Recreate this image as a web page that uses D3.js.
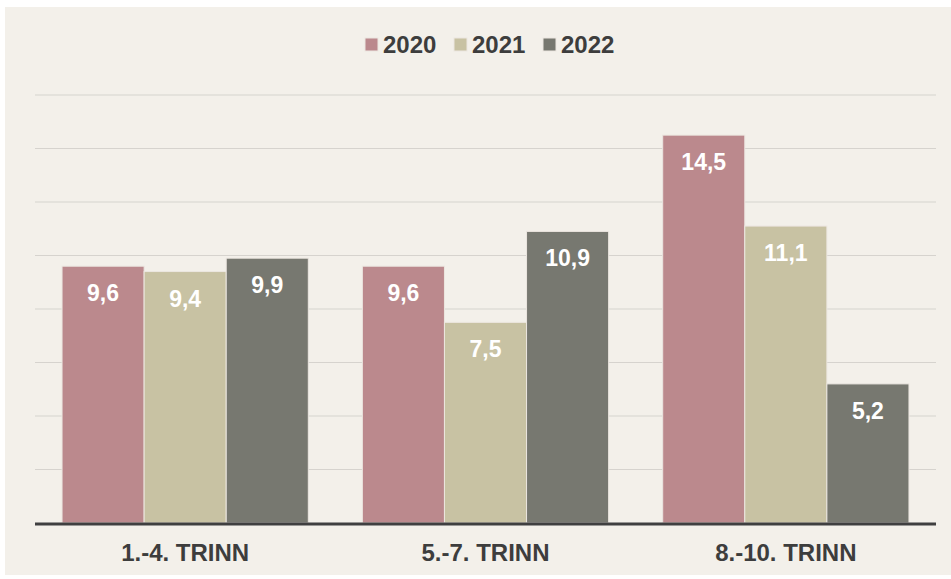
<!DOCTYPE html>
<html>
<head>
<meta charset="utf-8">
<script src="https://cdn.jsdelivr.net/npm/d3@7"></script>
<style>
  body { margin: 0; background: #fff; }
  svg { display: block; font-family: "Liberation Sans", Arial, sans-serif; }
</style>
</head>
<body>
<div id="chart"></div>
<script>
// Chart size and margins
const width = 951;
const height = 579;
const margin = { top: 95, right: 15, bottom: 56, left: 35 };

// Data
const categories = ["1.-4. TRINN", "5.-7. TRINN", "8.-10. TRINN"];
const years = ["2020", "2021", "2022"];
const values2020 = [9.6, 9.6, 14.5];
const values2021 = [9.4, 7.5, 11.1];
const values2022 = [9.9, 10.9, 5.2];
const yTicks = [0, 2, 4, 6, 8, 10, 12, 14, 16];

const series = [values2020, values2021, values2022];
const colors = ["#bb898d", "#c8c2a3", "#777870"];

const rows = categories.map((c, i) => ({
    category: c,
    values: years.map((y, j) => ({ year: y, value: series[j][i], color: colors[j] }))
}));

const svg = d3.select("#chart")
    .append("svg")
    .attr("width", width)
    .attr("height", height);

// Background panel
svg.append("rect")
    .attr("x", 5)
    .attr("y", 7)
    .attr("width", width - 5)
    .attr("height", height - 11)
    .attr("fill", "#f3f0ea");

// Scales
const x0 = d3.scaleBand()
    .domain(categories)
    .range([margin.left, width - margin.right])
    .paddingInner(0.18)
    .paddingOuter(0.09);

const x1 = d3.scaleBand()
    .domain(years)
    .range([0, x0.bandwidth()])
    .padding(0);

const y = d3.scaleLinear()
    .domain([0, 16])
    .range([height - margin.bottom, margin.top]);

// Grid lines
svg.append("g")
    .selectAll("line")
    .data(yTicks.slice(1))
    .enter()
    .append("line")
    .attr("x1", margin.left)
    .attr("x2", width - margin.right)
    .attr("y1", d => y(d))
    .attr("y2", d => y(d))
    .attr("stroke", "#d6d3ce")
    .attr("stroke-width", 1.2);

// Bars
const groups = svg.selectAll(".group")
    .data(rows)
    .enter()
    .append("g")
    .attr("class", "group")
    .attr("transform", d => `translate(${x0(d.category)},0)`);

groups.selectAll("rect")
    .data(d => d.values)
    .enter()
    .append("rect")
    .attr("x", d => x1(d.year))
    .attr("y", d => y(d.value))
    .attr("width", x1.bandwidth())
    .attr("height", d => y(0) - y(d.value))
    .attr("fill", d => d.color)
    .attr("stroke", "#ece6e0")
    .attr("stroke-width", 1);

// Value labels
groups.selectAll(".value")
    .data(d => d.values)
    .enter()
    .append("text")
    .attr("class", "value")
    .attr("x", d => x1(d.year) + x1.bandwidth() / 2)
    .attr("y", d => y(d.value) + 35)
    .attr("text-anchor", "middle")
    .attr("fill", "#ffffff")
    .attr("font-size", "23px")
    .attr("font-weight", "bold")
    .text(d => d.value.toFixed(1).replace(".", ","));

// X axis line
svg.append("line")
    .attr("x1", margin.left)
    .attr("x2", width - margin.right)
    .attr("y1", y(0) + 1)
    .attr("y2", y(0) + 1)
    .attr("stroke", "#3f3f40")
    .attr("stroke-width", 3);

// Category labels
svg.selectAll(".cat")
    .data(categories)
    .enter()
    .append("text")
    .attr("class", "cat")
    .attr("x", d => x0(d) + x0.bandwidth() / 2)
    .attr("y", height - 18)
    .attr("text-anchor", "middle")
    .attr("fill", "#3d3d3d")
    .attr("font-size", "24px")
    .attr("font-weight", "bold")
    .text(d => d);

// Legend
const legendX = [365, 454, 543];
const legend = svg.selectAll(".legend")
    .data(years)
    .enter()
    .append("g")
    .attr("class", "legend")
    .attr("transform", (d, i) => `translate(${legendX[i]},38)`);

legend.append("rect")
    .attr("width", 13)
    .attr("height", 13)
    .attr("fill", (d, i) => colors[i])
    .attr("stroke", "#ece6e0")
    .attr("stroke-width", 1);

legend.append("text")
    .attr("x", 18)
    .attr("y", 15)
    .attr("fill", "#3d3d3d")
    .attr("font-size", "24px")
    .attr("font-weight", "bold")
    .text(d => d);
</script>
</body>
</html>
